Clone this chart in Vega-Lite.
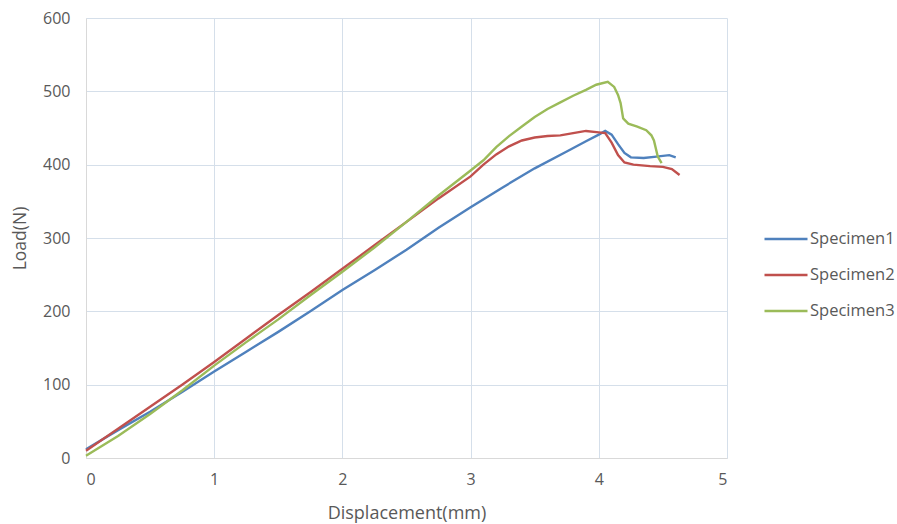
{
  "$schema": "https://vega.github.io/schema/vega-lite/v6.json",
  "width": 641,
  "height": 440,
  "autosize": "none",
  "padding": {"left": 86, "top": 18, "right": 170, "bottom": 66},
  "background": "white",
  "config": {
    "view": {"stroke": null},
    "font": "Open Sans"
  },
  "data": {
    "values": [
      {"s": "Specimen1", "d": 0, "load": 12}, {"s": "Specimen1", "d": 0.25, "load": 38}, {"s": "Specimen1", "d": 0.5, "load": 63}, {"s": "Specimen1", "d": 0.75, "load": 90}, {"s": "Specimen1", "d": 1, "load": 118}, {"s": "Specimen1", "d": 1.25, "load": 145}, {"s": "Specimen1", "d": 1.5, "load": 172}, {"s": "Specimen1", "d": 1.75, "load": 200}, {"s": "Specimen1", "d": 2, "load": 229}, {"s": "Specimen1", "d": 2.25, "load": 256}, {"s": "Specimen1", "d": 2.5, "load": 284}, {"s": "Specimen1", "d": 2.75, "load": 314}, {"s": "Specimen1", "d": 3, "load": 342}, {"s": "Specimen1", "d": 3.25, "load": 369}, {"s": "Specimen1", "d": 3.5, "load": 395}, {"s": "Specimen1", "d": 3.75, "load": 418}, {"s": "Specimen1", "d": 3.9, "load": 432}, {"s": "Specimen1", "d": 4.0, "load": 441}, {"s": "Specimen1", "d": 4.05, "load": 446}, {"s": "Specimen1", "d": 4.1, "load": 441}, {"s": "Specimen1", "d": 4.15, "load": 428}, {"s": "Specimen1", "d": 4.2, "load": 416}, {"s": "Specimen1", "d": 4.25, "load": 410}, {"s": "Specimen1", "d": 4.35, "load": 409}, {"s": "Specimen1", "d": 4.45, "load": 411}, {"s": "Specimen1", "d": 4.55, "load": 413}, {"s": "Specimen1", "d": 4.6, "load": 410},
      {"s": "Specimen2", "d": 0, "load": 10}, {"s": "Specimen2", "d": 0.25, "load": 40}, {"s": "Specimen2", "d": 0.5, "load": 70}, {"s": "Specimen2", "d": 0.75, "load": 100}, {"s": "Specimen2", "d": 1, "load": 131}, {"s": "Specimen2", "d": 1.25, "load": 163}, {"s": "Specimen2", "d": 1.5, "load": 195}, {"s": "Specimen2", "d": 1.75, "load": 226}, {"s": "Specimen2", "d": 2, "load": 258}, {"s": "Specimen2", "d": 2.25, "load": 290}, {"s": "Specimen2", "d": 2.5, "load": 322}, {"s": "Specimen2", "d": 2.75, "load": 354}, {"s": "Specimen2", "d": 3, "load": 384}, {"s": "Specimen2", "d": 3.1, "load": 400}, {"s": "Specimen2", "d": 3.2, "load": 414}, {"s": "Specimen2", "d": 3.3, "load": 425}, {"s": "Specimen2", "d": 3.4, "load": 433}, {"s": "Specimen2", "d": 3.5, "load": 437}, {"s": "Specimen2", "d": 3.6, "load": 439}, {"s": "Specimen2", "d": 3.7, "load": 440}, {"s": "Specimen2", "d": 3.8, "load": 443}, {"s": "Specimen2", "d": 3.9, "load": 446}, {"s": "Specimen2", "d": 4.0, "load": 444}, {"s": "Specimen2", "d": 4.05, "load": 443}, {"s": "Specimen2", "d": 4.1, "load": 430}, {"s": "Specimen2", "d": 4.15, "load": 413}, {"s": "Specimen2", "d": 4.2, "load": 403}, {"s": "Specimen2", "d": 4.27, "load": 400}, {"s": "Specimen2", "d": 4.4, "load": 398}, {"s": "Specimen2", "d": 4.5, "load": 397}, {"s": "Specimen2", "d": 4.57, "load": 394}, {"s": "Specimen2", "d": 4.63, "load": 386},
      {"s": "Specimen3", "d": 0, "load": 3}, {"s": "Specimen3", "d": 0.25, "load": 30}, {"s": "Specimen3", "d": 0.5, "load": 60}, {"s": "Specimen3", "d": 0.75, "load": 92}, {"s": "Specimen3", "d": 1, "load": 126}, {"s": "Specimen3", "d": 1.25, "load": 158}, {"s": "Specimen3", "d": 1.5, "load": 189}, {"s": "Specimen3", "d": 1.75, "load": 222}, {"s": "Specimen3", "d": 2, "load": 254}, {"s": "Specimen3", "d": 2.25, "load": 287}, {"s": "Specimen3", "d": 2.5, "load": 322}, {"s": "Specimen3", "d": 2.75, "load": 358}, {"s": "Specimen3", "d": 3, "load": 392}, {"s": "Specimen3", "d": 3.1, "load": 406}, {"s": "Specimen3", "d": 3.2, "load": 424}, {"s": "Specimen3", "d": 3.3, "load": 439}, {"s": "Specimen3", "d": 3.4, "load": 452}, {"s": "Specimen3", "d": 3.5, "load": 465}, {"s": "Specimen3", "d": 3.6, "load": 476}, {"s": "Specimen3", "d": 3.7, "load": 485}, {"s": "Specimen3", "d": 3.8, "load": 494}, {"s": "Specimen3", "d": 3.9, "load": 502}, {"s": "Specimen3", "d": 3.98, "load": 509}, {"s": "Specimen3", "d": 4.07, "load": 513}, {"s": "Specimen3", "d": 4.12, "load": 506}, {"s": "Specimen3", "d": 4.15, "load": 495}, {"s": "Specimen3", "d": 4.17, "load": 484}, {"s": "Specimen3", "d": 4.19, "load": 463}, {"s": "Specimen3", "d": 4.23, "load": 456}, {"s": "Specimen3", "d": 4.3, "load": 452}, {"s": "Specimen3", "d": 4.37, "load": 447}, {"s": "Specimen3", "d": 4.41, "load": 440}, {"s": "Specimen3", "d": 4.43, "load": 433}, {"s": "Specimen3", "d": 4.46, "load": 411}, {"s": "Specimen3", "d": 4.49, "load": 402}
    ]
  },
  "mark": {"type": "line", "strokeWidth": 2.4, "interpolate": "linear"},
  "encoding": {
    "x": {
      "field": "d", "type": "quantitative",
      "scale": {"domain": [0, 5], "nice": false},
      "axis": {
        "title": "Displacement(mm)", "values": [0, 1, 2, 3, 4, 5], "format": "d",
        "grid": true, "gridColor": "#D5DFEA", "gridWidth": 1,
        "domainColor": "#D9D9D9", "ticks": false,
        "labelFontSize": 16, "labelColor": "#595959", "labelPadding": 13,
        "titleFontSize": 18, "titleFontWeight": "normal", "titleColor": "#595959",
        "titleX": 320.5, "titleY": 55, "titleBaseline": "middle"
      }
    },
    "y": {
      "field": "load", "type": "quantitative",
      "scale": {"domain": [0, 600], "nice": false},
      "axis": {
        "title": "Load(N)", "values": [0, 100, 200, 300, 400, 500, 600],
        "grid": true, "gridColor": "#D5DFEA", "gridWidth": 1,
        "domainColor": "#D9D9D9", "ticks": false,
        "labelFontSize": 16, "labelColor": "#595959", "labelPadding": 16,
        "titleFontSize": 17.5, "titleFontWeight": "normal", "titleColor": "#595959",
        "titleX": -66, "titleY": 220, "titleBaseline": "middle", "titleAngle": -90
      }
    },
    "color": {
      "field": "s", "type": "nominal",
      "scale": {"domain": ["Specimen1", "Specimen2", "Specimen3"], "range": ["#4F81BD", "#C0504D", "#9BBB59"]},
      "legend": {
        "title": null, "orient": "none", "legendX": 677, "legendY": 198,
        "symbolType": "stroke", "symbolSize": 1849, "symbolStrokeWidth": 2.5,
        "rowPadding": 4, "labelFontSize": 16.5, "labelColor": "#595959", "labelOffset": 1
      }
    }
  }
}
